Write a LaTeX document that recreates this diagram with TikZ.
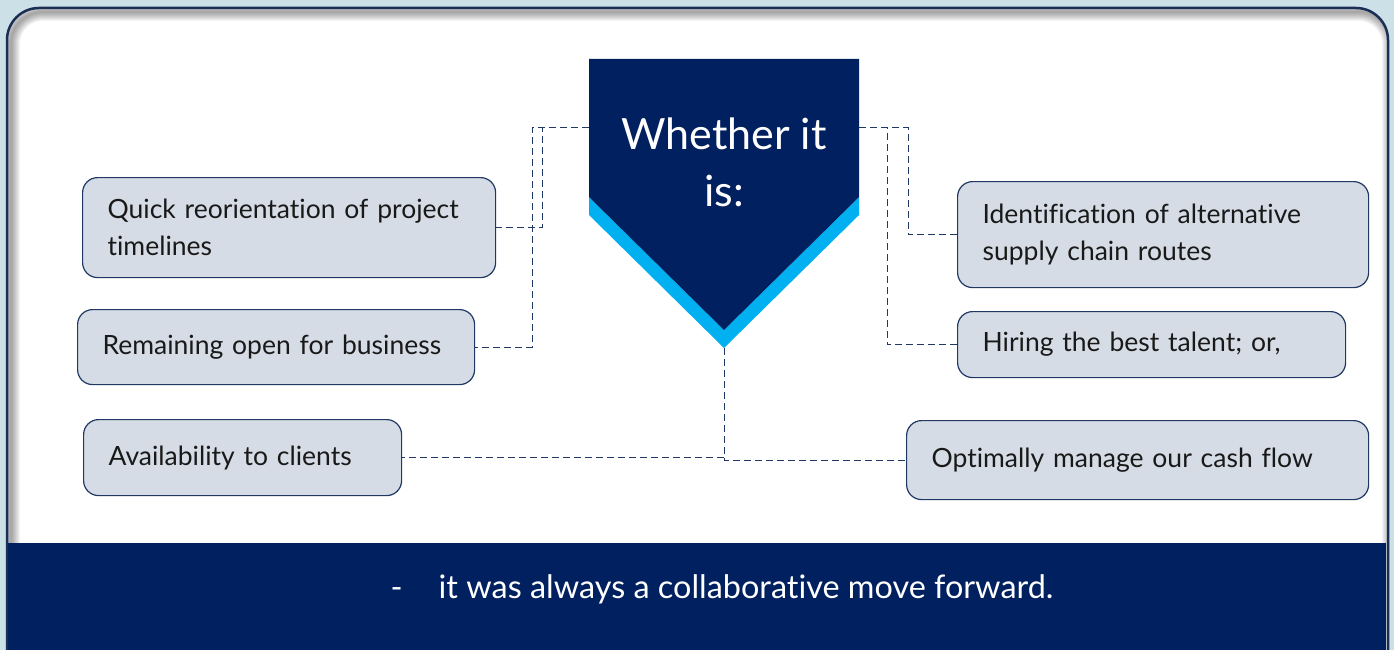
\documentclass[tikz,border=0pt]{standalone}
\usepackage{fontspec}
\setmainfont[Ligatures=NoCommon]{Lato}
\definecolor{navy}{HTML}{002060}
\definecolor{cyanb}{HTML}{00B0F0}
\definecolor{boxfill}{HTML}{D6DCE5}
\definecolor{boxline}{HTML}{1F3864}
\definecolor{bgblue}{HTML}{CCE0E8}
\definecolor{panelline}{HTML}{1B2E55}
\begin{document}
\begin{tikzpicture}[x=1pt,y=-1pt,
  box/.style={draw=boxline, line width=1.2pt, fill=boxfill, rounded corners=15pt,
    align=left, inner xsep=25pt, inner ysep=0pt, anchor=north west,
    font=\fontsize{26.5}{37}\selectfont, text=black!90},
  conn/.style={draw=boxline, line width=1pt, dash pattern=on 7pt off 4pt}]
\useasboundingbox (0,0) rectangle (1394,650);
\clip (0,0) rectangle (1394,650);
\fill[bgblue] (0,0) rectangle (1394,650);
% panel
\fill[white, rounded corners=32pt] (7,8) rectangle (1388,720);
\begin{scope}
  \clip[rounded corners=32pt] (7,8) rectangle (1388,720);
  \foreach \i in {1,...,9}
    \draw[black, opacity=0.045, line width=2*\i pt, rounded corners=32pt] (11,12) rectangle (1391,724);
\end{scope}
\draw[panelline, line width=2.5pt, rounded corners=32pt] (7,8) rectangle (1388,720);
% band
\fill[navy] (8,543) rectangle (1386,650);
\node[font=\fontsize{32.4}{38}\selectfont, text=white] (foot) at (722,589)
  {-\hspace{36pt}it was always a collaborative move forward.};
% pentagon
\fill[cyanb] (589,197) -- (724,330) -- (859,197) -- (859,215) -- (724,348) -- (589,215) -- cycle;
\fill[navy] (589,59) -- (859,59) -- (859,197) -- (724,330) -- (589,197) -- cycle;
\node[font=\fontsize{43}{57}\selectfont, text=white, align=center] (title) at (724,162) {Whether it\\is:};
\coordinate (pl) at (589,128);
\coordinate (pr) at (859,128);
\coordinate (tip) at (724,348);
% boxes
\node[box, text width=363pt, minimum height=100pt] (b1) at (82,177) {Quick reorientation of project\\timelines};
\node[box, text width=347pt, minimum height=75pt] (b2) at (77,309) {Remaining open for business};
\node[box, text width=268pt, minimum height=76pt] (b3) at (83,419) {Availability to clients};
\node[box, text width=361pt, minimum height=106pt] (b4) at (957,181) {Identification of alternative\\supply chain routes};
\node[box, text width=338pt, minimum height=66pt] (b5) at (957,311) {Hiring the best talent; or,};
\node[box, text width=412pt, minimum height=79pt] (b6) at (906,420) {Optimally manage our cash flow};
% connectors
\draw[conn] (pl) -- (542,128) |- (b1.east);
\draw[conn] (pl) -- (532,128) |- (b2.east);
\draw[conn] (pr) -- (908,128) |- (b4.west);
\draw[conn] (pr) -- (887,128) |- (b5.west);
\draw[conn] (tip) |- (b3.east);
\draw[conn] (tip) |- (b6.west);
\end{tikzpicture}
\end{document}
